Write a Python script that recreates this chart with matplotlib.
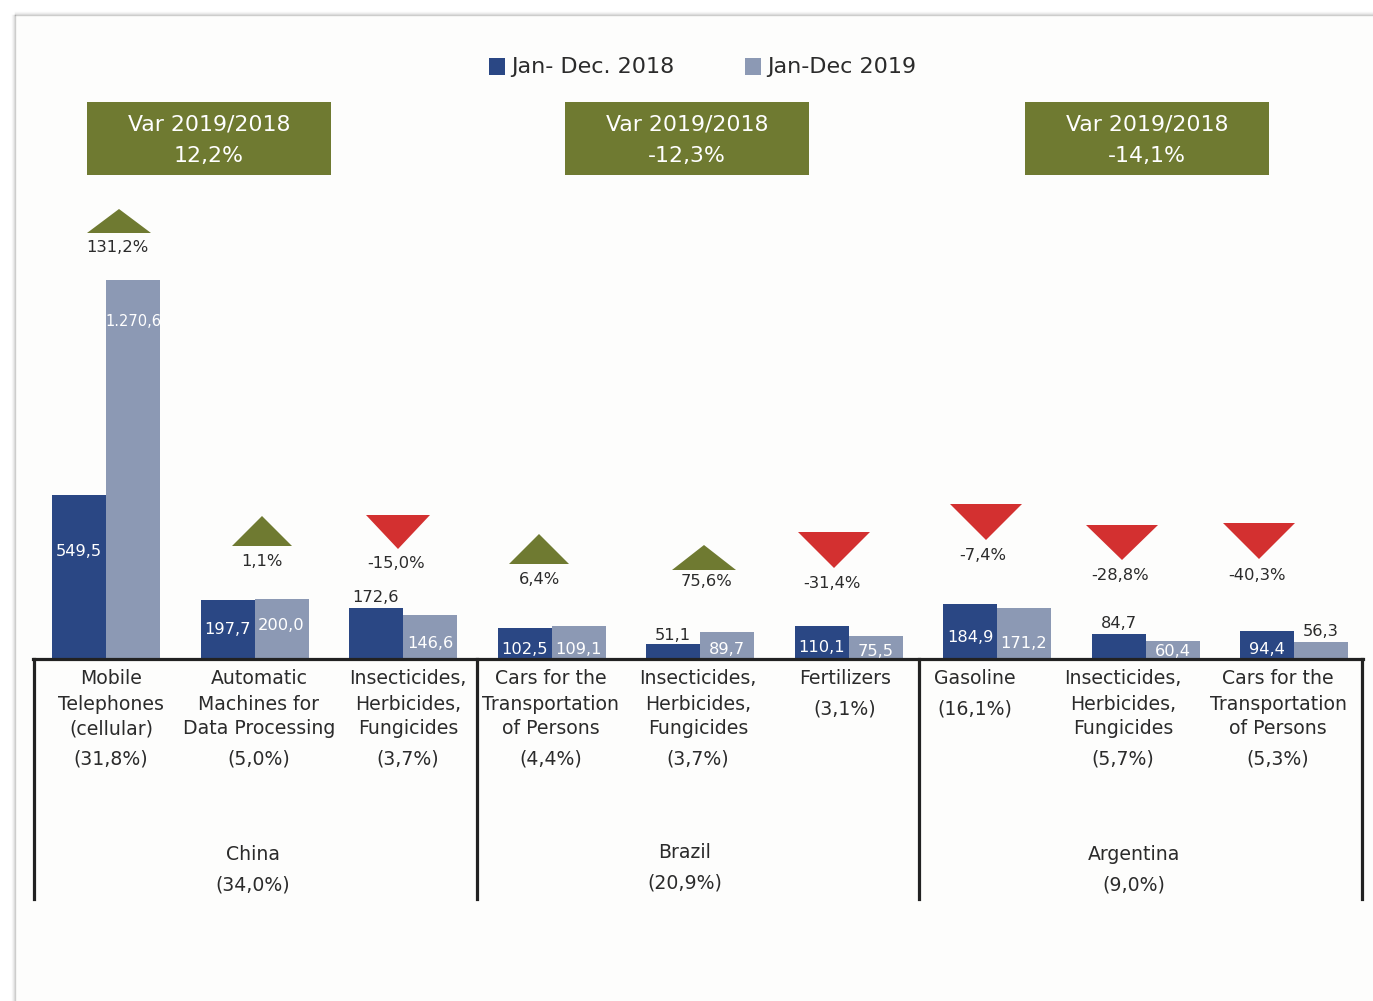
import matplotlib.pyplot as plt
from matplotlib.patches import Polygon, Rectangle
from matplotlib.transforms import Affine2D

# Data
categories = ["Mobile\nTelephones\n(cellular)", "Automatic\nMachines for\nData Processing",
              "Insecticides,\nHerbicides,\nFungicides", "Cars for the\nTransportation\nof Persons",
              "Insecticides,\nHerbicides,\nFungicides", "Fertilizers",
              "Gasoline", "Insecticides,\nHerbicides,\nFungicides", "Cars for the\nTransportation\nof Persons"]
shares = ["(31,8%)", "(5,0%)", "(3,7%)", "(4,4%)", "(3,7%)", "(3,1%)", "(16,1%)", "(5,7%)", "(5,3%)"]
v2018 = [549.5, 197.7, 172.6, 102.5, 51.1, 110.1, 184.9, 84.7, 94.4]
v2019 = [1270.6, 200.0, 146.6, 109.1, 89.7, 75.5, 171.2, 60.4, 56.3]
variation = [131.2, 1.1, -15.0, 6.4, 75.6, -31.4, -7.4, -28.8, -40.3]
countries = ["China", "Brazil", "Argentina"]
country_shares = ["(34,0%)", "(20,9%)", "(9,0%)"]
country_var = [12.2, -12.3, -14.1]
legend_labels = ["Jan- Dec. 2018", "Jan-Dec 2019"]

DARK = "#2a4784"
LIGHT = "#8c99b4"
OLIVE = "#6f7a31"
RED = "#d33030"
TXT = "#2b2b2b"

W, H = 1373, 1001
fig = plt.figure(figsize=(W / 100, H / 100), dpi=100, facecolor="white")
ax = fig.add_axes([0, 0, 1, 1])
ax.axis("off")
ax.set_autoscale_on(False)

# pixel -> axes data mapping
x0px, dx = 106, 148.5
y0px = 659
s = 379 / 1270.6
ax.set_xlim(-x0px / dx, (W - x0px) / dx)
ax.set_ylim(-(H - y0px) / s, y0px / s)

# pixel transform (origin top-left)
T = Affine2D().scale(1 / W, -1 / H).translate(0, 1) + fig.transFigure


def fmt(v):
    t = f"{v:,.1f}"
    return t.replace(",", "#").replace(".", ",").replace("#", ".")


# card with shadow
ax.add_patch(Rectangle((15, 15), W, H, transform=T, facecolor="#fdfdfc", edgecolor="none", zorder=0))
for k, a in enumerate([0.35, 0.2, 0.1, 0.05]):
    ax.plot([15 - k - 0.5, 15 - k - 0.5], [15, H], color="gray", alpha=a, lw=1, transform=T, zorder=0)
    ax.plot([15, W], [15 - k - 0.5, 15 - k - 0.5], color="gray", alpha=a, lw=1, transform=T, zorder=0)

# bars
bw = 54 / dx
x = list(range(len(v2018)))
ax.bar([i - bw / 2 for i in x], v2018, width=bw, color=DARK, zorder=2)
ax.bar([i + bw / 2 for i in x], v2019, width=bw, color=LIGHT, zorder=2)

# value labels (pixel y, inside bar?)
lab18_y = [551, 629, 598, 650, 636, 647, 638, 623, 650]
lab18_in = [True, True, False, True, False, True, True, False, True]
lab19_y = [322, 626, 643, 650, 650, 651, 643, 651, 632]
lab19_in = [True, True, True, True, True, True, True, True, False]
for i in x:
    for v, ly, inside, off in [(v2018[i], lab18_y[i], lab18_in[i], -bw / 2),
                               (v2019[i], lab19_y[i], lab19_in[i], bw / 2)]:
        px = x0px + (i + off) * dx
        size = 10.5 if v > 1000 else 11.7
        ax.text(px, ly, fmt(v), transform=T, ha="center", va="center", fontsize=size,
                color="white" if inside else TXT, zorder=3)

# variation triangles and labels
tri_geo = [(119, 209, 233, 32), (262, 516, 546, 30), (398, 515, 549, 32), (539, 534, 564, 30),
           (704, 545, 570, 32), (834, 532, 568, 36), (986, 504, 540, 36), (1122, 525, 560, 36),
           (1259, 523, 559, 36)]
var_lab = [(117, 248), (262, 562), (396, 563), (539, 580), (707, 582), (832, 583), (983, 555),
           (1120, 575), (1257, 575)]
for v, (cx, top, bot, hw), (lx, ly) in zip(variation, tri_geo, var_lab):
    if v >= 0:
        pts = [(cx - hw, bot), (cx + hw, bot), (cx, top)]
        col = OLIVE
    else:
        pts = [(cx - hw, top), (cx + hw, top), (cx, bot)]
        col = RED
    ax.add_patch(Polygon(pts, closed=True, transform=T, facecolor=col, edgecolor="none", zorder=3))
    ax.text(lx, ly, f"{v:.1f}%".replace(".", ","), transform=T, ha="center", va="center",
            fontsize=11.8, color=TXT)

# country variation boxes
box_x = [87, 565, 1025]
for bx, cv in zip(box_x, country_var):
    ax.add_patch(Rectangle((bx, 102), 244, 73, transform=T, facecolor=OLIVE, edgecolor="none", zorder=3))
    ax.text(bx + 122, 124, "Var 2019/2018", transform=T, ha="center", va="center",
            fontsize=15.8, color="white", zorder=4)
    ax.text(bx + 122, 156, f"{cv:.1f}%".replace(".", ","), transform=T, ha="center", va="center",
            fontsize=15.8, color="white", zorder=4)

# legend
ax.add_patch(Rectangle((489, 58), 16, 17, transform=T, facecolor=DARK, edgecolor="none"))
ax.text(511, 67, legend_labels[0], transform=T, ha="left", va="center", fontsize=16, color=TXT)
ax.add_patch(Rectangle((745, 58), 16, 17, transform=T, facecolor=LIGHT, edgecolor="none"))
ax.text(767, 67, legend_labels[1], transform=T, ha="left", va="center", fontsize=16, color=TXT)

# frame lines
ax.plot([33, 1363], [659, 659], color="#222222", lw=2.3, transform=T, zorder=4)
for vx in [34, 477, 919, 1362]:
    ax.plot([vx, vx], [659, 899], color="#222222", lw=2.3, transform=T, zorder=4)

# category labels
cat_x = [111, 259, 408, 551, 698, 845, 975, 1123, 1278]
for cx, name, sh in zip(cat_x, categories, shares):
    lines = name.split("\n")
    for k, ln in enumerate(lines):
        ax.text(cx, 679 + 25 * k, ln, transform=T, ha="center", va="center", fontsize=13.6, color=TXT)
    ax.text(cx, 679 + 25 * (len(lines) - 1) + 30, sh, transform=T, ha="center", va="center",
            fontsize=13.6, color=TXT)

# country labels
country_x = [253, 685, 1134]
country_y = [855, 853, 855]
for cx, cy, c, cs in zip(country_x, country_y, countries, country_shares):
    ax.text(cx, cy, c, transform=T, ha="center", va="center", fontsize=13.6, color=TXT)
    ax.text(cx, cy + 30, cs, transform=T, ha="center", va="center", fontsize=13.6, color=TXT)

plt.savefig("out.png", dpi=100)
